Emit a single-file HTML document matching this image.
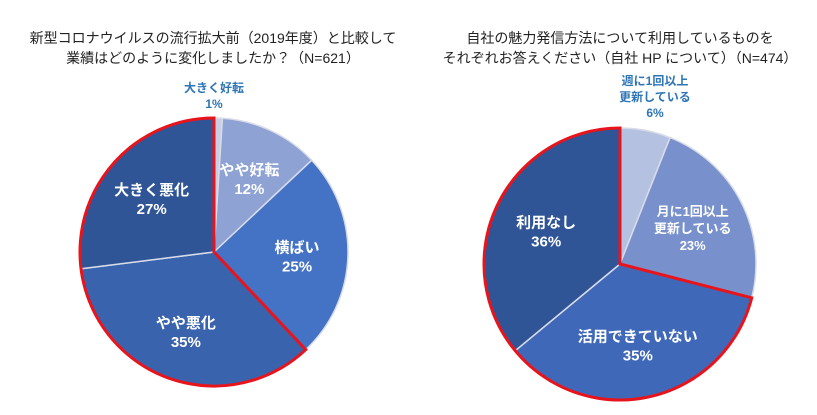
<!DOCTYPE html>
<html><head><meta charset="utf-8">
<style>
html,body{margin:0;padding:0;background:#fff;}
svg{display:block;font-family:"Liberation Sans","Noto Sans CJK JP",sans-serif;}
</style></head>
<body>
<svg id="s" width="817" height="415" viewBox="0 0 817 415">
<text x="213" y="43" text-anchor="middle" font-size="14" fill="#222">新型コロナウイルスの流行拡大前（2019年度）と比較して</text>
<text x="213" y="63" text-anchor="middle" font-size="14" fill="#222">業績はどのように変化しましたか？（N=621）</text>
<text x="620" y="43" text-anchor="middle" font-size="14" fill="#222">自社の魅力発信方法について利用しているものを</text>
<text x="620" y="63" text-anchor="middle" font-size="14" fill="#222">それぞれお答えください（自社 HP について）（N=474）</text>
</svg>
<script>
const leftLabels=["大きく好転","やや好転","横ばい","やや悪化","大きく悪化"];
const leftValues=[1,12,25,35,27];
const leftColors=["#c8cfe4","#8ea3d4","#4472c4","#3a63ad","#2f5597"];
const rightLabels=["週に1回以上\n更新している","月に1回以上\n更新している","活用できていない","利用なし"];
const rightValues=[6,23,35,36];
const rightColors=["#b4c1e0","#7890cc","#4068b8","#2f5597"];
const NS="http://www.w3.org/2000/svg";
const svg=document.getElementById('s');
function mk(t,a){const e=document.createElementNS(NS,t);for(const k in a)e.setAttribute(k,a[k]);svg.appendChild(e);return e;}
function pt(cx,cy,r,f){const a=f*2*Math.PI-Math.PI/2;return [cx+r*Math.cos(a),cy+r*Math.sin(a)];}
function arc(cx,cy,r,f0,f1){const p0=pt(cx,cy,r,f0),p1=pt(cx,cy,r,f1);const big=(f1-f0)>0.5?1:0;
 return `M${cx},${cy}L${p0[0]},${p0[1]}A${r},${r} 0 ${big} 1 ${p1[0]},${p1[1]}Z`;}
function text(x,y,lines,size,fill,name){lines.forEach((l,i)=>{const t=mk('text',{x:x,y:y+i*(size+4),'text-anchor':'middle','font-size':size,fill:fill,'font-weight':'bold'});
 
 
 t.textContent=l;});}
function pie(prefix,cx,cy,r,labels,values,colors,redFrom,outsideIdx,labelR,outDx){
 const tot=values.reduce((a,b)=>a+b,0);let c=0;const fr=[];
 values.forEach((v,i)=>{const f0=c/tot,f1=(c+v)/tot;fr.push([f0,f1]);
  const p=mk('path',{d:arc(cx,cy,r,f0,f1),fill:colors[i],stroke:'#d8dce8','stroke-width':1.5});
  
  
  c+=v;});
 const f0=fr[redFrom][0],f1=1;
 const o=mk('path',{d:arc(cx,cy,r,f0,f1),fill:'none',stroke:'#e8141c','stroke-width':3,'stroke-linejoin':'miter'});
 
 
 values.forEach((v,i)=>{const mid=(fr[i][0]+fr[i][1])/2;const lines=(labels[i]).split("\n").concat([v+"%"]);
  if(i===outsideIdx){const h=lines.length*17;const y=cy-r-h+6;
   text(cx+outDx,y+2,lines,12,'#2e75b6',prefix+'-label-'+i);}
  else{const p=pt(cx,cy,r*labelR,mid);const h=(lines.length-1)*18;
   text(p[0],p[1]-h/2+7,lines,lines.length>2?13:15,'#fff',prefix+'-label-'+i);}});
}
pie('left',214,252,134,leftLabels,leftValues,leftColors,3,0,0.62,0);
pie('right',620,264,136,rightLabels,rightValues,rightColors,2,0,0.6,35);
</script>
</body></html>
